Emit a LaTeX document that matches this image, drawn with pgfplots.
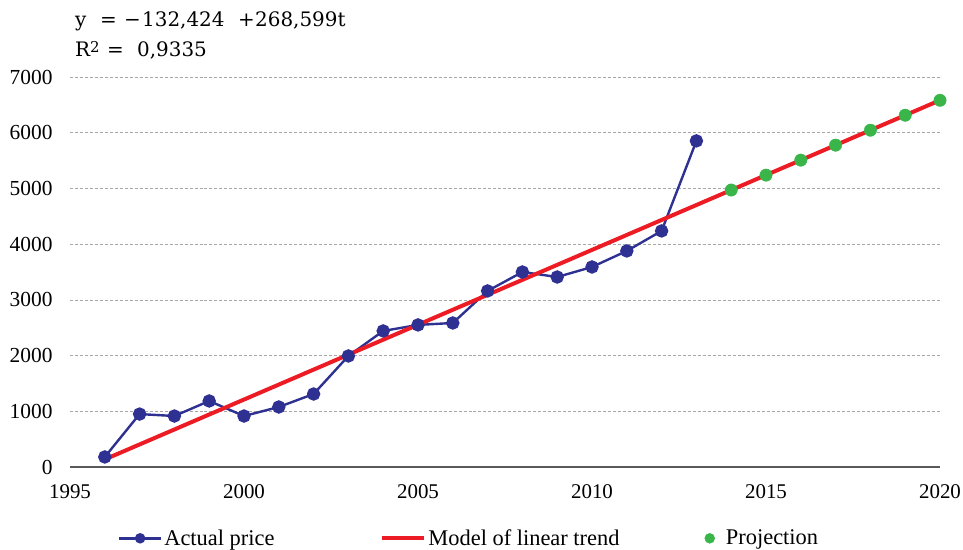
\documentclass[border=0pt]{standalone}
\usepackage{pgfplots}
\pgfplotsset{compat=1.18}
\usepackage{fontspec}
\setmainfont{Liberation Serif}
\newfontfamily\eqfont{DejaVu Serif}
\definecolor{cblue}{RGB}{46,49,146}
\definecolor{cred}{RGB}{237,28,36}
\definecolor{cgreen}{RGB}{57,181,74}
\pgfplotsset{
  blueleg/.style={legend image code/.code={\draw[##1] (0bp,0bp) -- (42bp,0bp); \draw[##1,mark=*,mark size=4bp] plot coordinates {(21bp,0bp)};}},
  redleg/.style={legend image code/.code={\draw[##1] (0bp,0bp) -- (42bp,0bp);}},
  greenleg/.style={legend image code/.code={\draw[##1, mark size=5bp] plot coordinates {(5bp,0bp)}; \path (0bp,0bp) (19bp,0bp);}},
}
\begin{document}
\begin{tikzpicture}[x=1bp,y=1bp]
\useasboundingbox (0,0) rectangle (963,550);
\begin{axis}[
  at={(70bp,83bp)}, anchor=south west,
  scale only axis, width=870bp, height=390bp,
  xmin=1995, xmax=2020, ymin=0, ymax=7000,
  xtick={1995,2000,...,2020}, ytick={0,1000,...,7000},
  /pgf/number format/assume math mode=true,
  xticklabel style={/pgf/number format/1000 sep={}, font=\fontsize{21}{23}\selectfont, yshift=-14bp},
  yticklabel style={/pgf/number format/1000 sep={}, font=\fontsize{21.5}{23}\selectfont, xshift=-14bp},
  axis x line*=bottom, axis y line*=left,
  x axis line style={draw=black!65, line width=1.3bp, -},
  y axis line style={draw=none},
  major tick length=0pt,
  ymajorgrids, grid style={densely dashed, black!35, line width=0.6bp},
  clip=false,
  legend style={at={(0.5,-0.15)}, xshift=-36bp, anchor=north, draw=none, fill=none,
    legend columns=3, font=\fontsize{22.5}{24}\selectfont,
    /tikz/column 2/.style={column sep=104bp},
    /tikz/column 4/.style={column sep=83bp}},
  legend cell align=left,
]
\addplot[cblue, line width=2.4bp, mark=*, mark size=5.5bp, mark options={solid, fill=cblue}, blueleg] coordinates {
(1996,180) (1997,950) (1998,915) (1999,1185) (2000,915) (2001,1077) (2002,1310)
(2003,1993) (2004,2442) (2005,2550) (2006,2585) (2007,3160) (2008,3500) (2009,3410)
(2010,3590) (2011,3878) (2012,4237) (2013,5853)};
\addlegendentry{Actual price}
\addplot[cred, line width=4bp, no marks, redleg] coordinates {(1996,136.2) (2020,6582.5)};
\addlegendentry{Model of linear trend}
\addplot[only marks, mark=*, mark size=6.2bp, color=cgreen, mark options={fill=cgreen, draw=cgreen}, greenleg] coordinates {
(2014,4971) (2015,5239) (2016,5508) (2017,5777) (2018,6045) (2019,6314) (2020,6582)};
\addlegendentry{Projection}
\end{axis}
\begin{scope}[every node/.style={anchor=base west, inner sep=0pt, font=\eqfont\fontsize{20}{22}\selectfont}]
\node at (75,523) {y};
\node at (100,523) {=};
\node at (124,523) {−};
\node at (142,523) {132,424};
\node at (238,523) {+};
\node at (255,523) {268,599t};
\node at (75,493) {R\raisebox{0.4ex}{\fontsize{15}{16}\selectfont 2}};
\node at (107,493) {=};
\node at (137,493) {0,9335};
\end{scope}
\end{tikzpicture}
\end{document}
